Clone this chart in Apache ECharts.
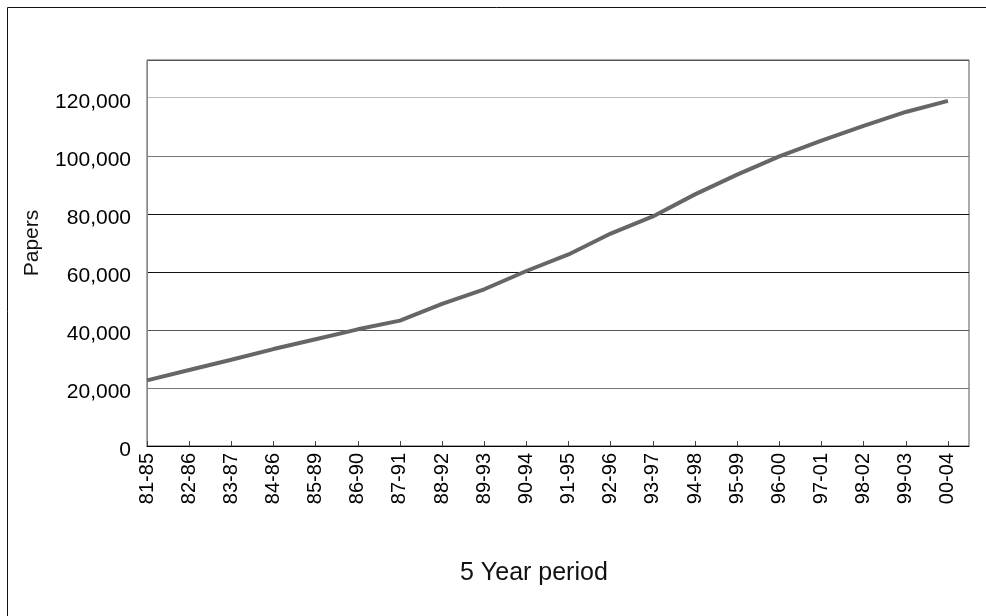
<!DOCTYPE html>
<html>
<head>
<meta charset="utf-8">
<script src="https://cdn.jsdelivr.net/npm/echarts@6/dist/echarts.min.js"></script>
<style>
  html, body { margin: 0; padding: 0; background: #fff; }
  #main { width: 986px; height: 616px; }
</style>
</head>
<body>
<div id="main"></div>
<script>
var periods = ['81-85','82-86','83-87','84-86','85-89','86-90','87-91','88-92','89-93','90-94',
               '91-95','92-96','93-97','94-98','95-99','96-00','97-01','98-02','99-03','00-04'];
var papers = [22600, 26200, 29700, 33400, 36800, 40200, 43200, 49000, 54000, 60300,
              66000, 73200, 79100, 86700, 93500, 99800, 105200, 110300, 115100, 118900];
var yTicks = [0, 20000, 40000, 60000, 80000, 100000, 120000];

var chart = echarts.init(document.getElementById('main'));

var points = papers.map(function (v, i) { return [i, v]; });

var option = {
    animation: false,
    backgroundColor: '#fff',
    textStyle: { fontFamily: 'Liberation Sans' },
    title: {
        text: '5 Year period',
        left: 455,
        top: 556,
        textStyle: { fontSize: 25, fontWeight: 'normal', color: '#111', fontFamily: 'Liberation Sans' }
    },
    grid: {
        left: 147, top: 60, width: 822, height: 386,
        show: true, borderColor: '#555', borderWidth: 1, backgroundColor: '#fff'
    },
    xAxis: {
        type: 'value',
        min: 0,
        max: 19.5,
        interval: 1,
        axisLine: { show: true, lineStyle: { color: '#000', width: 1 } },
        axisTick: { show: true, inside: true, length: 5, lineStyle: { color: '#444' } },
        splitLine: { show: false },
        axisLabel: {
            rotate: 90,
            margin: 7,
            fontSize: 20,
            color: '#000',
            showMaxLabel: false,
            formatter: function (v) {
                var r = Math.round(v);
                return Math.abs(v - r) < 1e-6 && periods[r] ? periods[r] : '';
            }
        }
    },
    yAxis: {
        type: 'value',
        min: 0,
        max: 133000,
        interval: 20000,
        axisLine: { show: true, lineStyle: { color: '#888', width: 1 } },
        axisTick: { show: false },
        splitLine: {
            show: true,
            lineStyle: { color: ['#000', '#777', '#555', '#111', '#111', '#777', '#bbb', '#555'], width: 1 }
        },
        axisLabel: {
            color: '#000',
            margin: 16,
            showMaxLabel: false,
            formatter: function (v) {
                return yTicks.indexOf(v) >= 0 ? '{n|' + v.toLocaleString('en-US') + '}' : '';
            },
            rich: {
                n: { fontSize: 21, color: '#000', fontFamily: 'Liberation Sans', padding: [9, 0, 0, 0] }
            }
        }
    },
    graphic: [
        { type: 'line', shape: { x1: 7.5, y1: 7.5, x2: 986, y2: 7.5 }, style: { stroke: '#111', lineWidth: 1 } },
        { type: 'line', shape: { x1: 7.5, y1: 7.5, x2: 7.5, y2: 616 }, style: { stroke: '#111', lineWidth: 1 } },
        {
            type: 'text', x: 32, y: 243, rotation: Math.PI / 2,
            style: { text: 'Papers', fontSize: 21, fill: '#111', fontFamily: 'Liberation Sans', align: 'center', verticalAlign: 'middle' }
        }
    ],
    series: [{
        name: 'Papers',
        type: 'line',
        data: points,
        symbol: 'none',
        smooth: false,
        lineStyle: { color: '#666', width: 4 }
    }]
};

chart.setOption(option);
</script>
</body>
</html>
